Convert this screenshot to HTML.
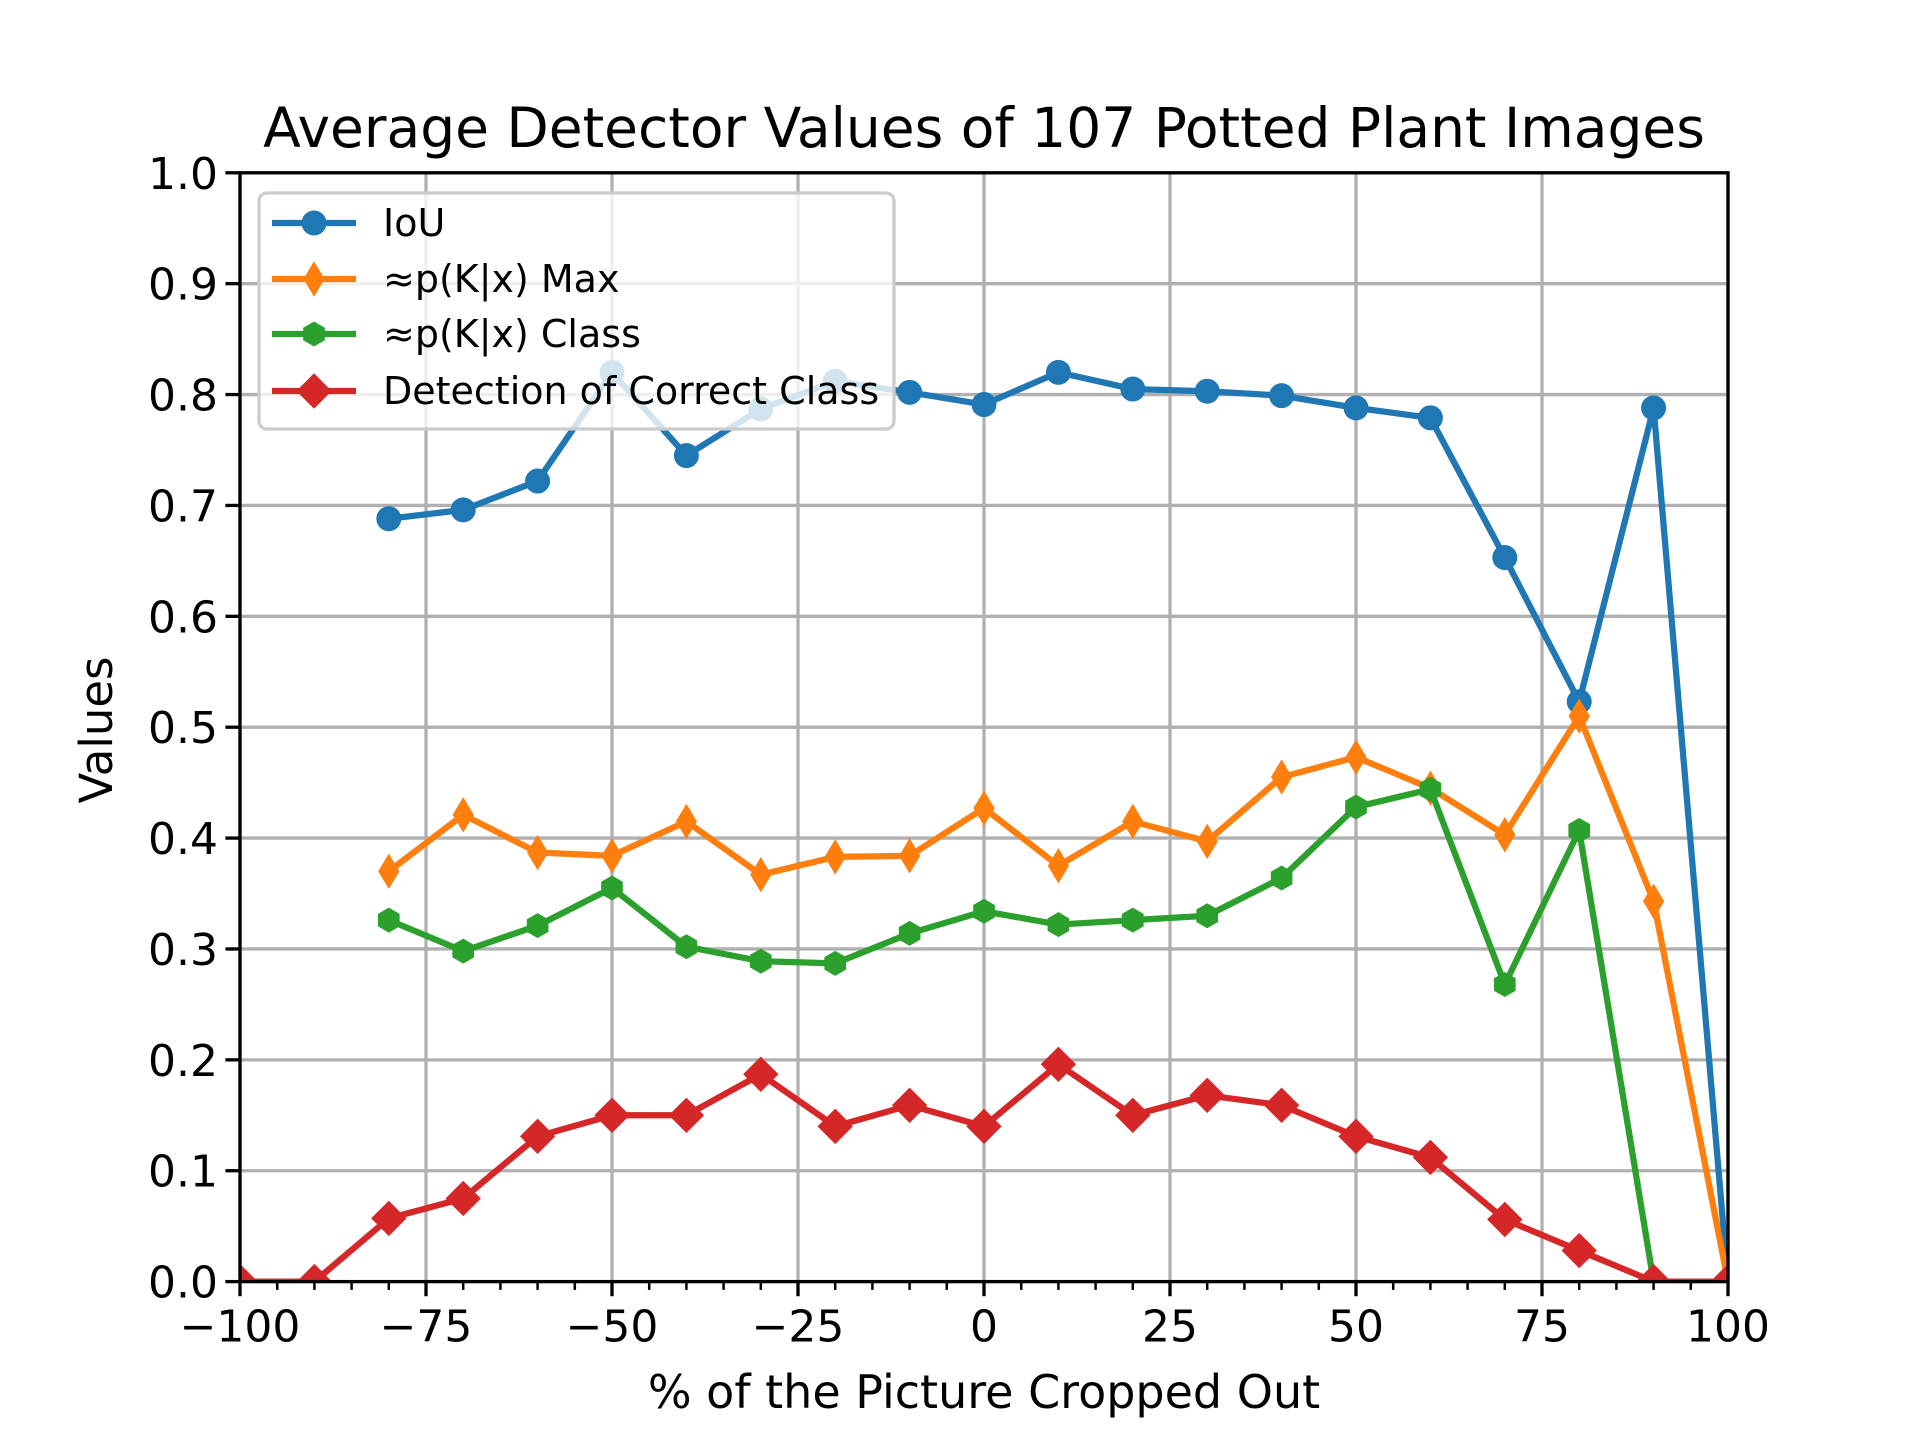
<!DOCTYPE html>
<html><head><meta charset="utf-8">
<style>
html,body{margin:0;padding:0;background:#fff;}
svg{display:block;font-family:"DejaVu Sans","Liberation Sans",sans-serif;}
</style></head>
<body>
<svg id="chart" width="1920" height="1440" viewBox="0 0 1920 1440" xmlns="http://www.w3.org/2000/svg">
<rect width="1920" height="1440" fill="#fff"/>
<text x="984" y="147" font-size="55" text-anchor="middle">Average Detector Values of 107 Potted Plant Images</text>
<text x="984" y="1424" font-size="46" text-anchor="middle" transform="translate(0,-16)">% of the Picture Cropped Out</text>
<text x="0" y="0" font-size="45" text-anchor="middle" transform="translate(112,730) rotate(-90)">Values</text>
<g id="grid"></g><g id="series"></g><g id="axes"></g><g id="legend"></g>
</svg>
<script>
const xTicks=[-100,-75,-50,-25,0,25,50,75,100];
const xTickLabels=["\u2212100","\u221275","\u221250","\u221225","0","25","50","75","100"];
const yTicks=[0,0.1,0.2,0.3,0.4,0.5,0.6,0.7,0.8,0.9,1.0];
const yTickLabels=["0.0","0.1","0.2","0.3","0.4","0.5","0.6","0.7","0.8","0.9","1.0"];
const xIoU=[-80,-70,-60,-50,-40,-30,-20,-10,0,10,20,30,40,50,60,70,80,90,100];
const iou=[0.688,0.696,0.722,0.820,0.745,0.787,0.812,0.802,0.791,0.820,0.805,0.803,0.799,0.788,0.779,0.653,0.523,0.788,0.0];
const xMax=[-80,-70,-60,-50,-40,-30,-20,-10,0,10,20,30,40,50,60,70,80,90,100];
const pMax=[0.370,0.421,0.387,0.384,0.415,0.367,0.383,0.384,0.427,0.375,0.415,0.397,0.455,0.473,0.445,0.403,0.510,0.343,0.0];
const xClass=[-80,-70,-60,-50,-40,-30,-20,-10,0,10,20,30,40,50,60,70,80,90,100];
const pClass=[0.326,0.298,0.321,0.355,0.302,0.289,0.287,0.314,0.334,0.322,0.326,0.330,0.364,0.428,0.444,0.268,0.407,0.0,0.0];
const xDet=[-100,-90,-80,-70,-60,-50,-40,-30,-20,-10,0,10,20,30,40,50,60,70,80,90,100];
const det=[0,0,0.057,0.075,0.131,0.150,0.150,0.187,0.140,0.159,0.140,0.196,0.150,0.168,0.159,0.131,0.112,0.056,0.028,0.0,0.0];

const L=240,R=1728,T=172.8,B=1281.6;
const sx=v=>L+(v+100)/200*(R-L);
const sy=v=>B-v*(B-T);
const NS="http://www.w3.org/2000/svg";
function mk(tag,parent,attrs){const e=document.createElementNS(NS,tag);for(const k in attrs)e.setAttribute(k,attrs[k]);parent.appendChild(e);return e;}
const grid=document.getElementById('grid'),axes=document.getElementById('axes'),ser=document.getElementById('series'),leg=document.getElementById('legend');

xTicks.forEach((t,i)=>{
 const g=mk('line',grid,{x1:sx(t),x2:sx(t),y1:T,y2:B,stroke:'#b0b0b0','stroke-width':3.3});
 
 
 const tk=mk('line',axes,{x1:sx(t),x2:sx(t),y1:B,y2:B+14.6,stroke:'#000','stroke-width':3.3});
 
 
 const tx=mk('text',axes,{x:sx(t),y:B+60,'font-size':44,'text-anchor':'middle'});
 tx.textContent=xTickLabels[i];
 
 
});
for(let v=-95;v<100;v+=5){if(v%25===0)continue;
 const m=mk('line',axes,{x1:sx(v),x2:sx(v),y1:B,y2:B+8.3,stroke:'#000','stroke-width':2.5});
 
 
}
yTicks.forEach((t,i)=>{
 const g=mk('line',grid,{x1:L,x2:R,y1:sy(t),y2:sy(t),stroke:'#b0b0b0','stroke-width':3.3});
 
 
 const tk=mk('line',axes,{x1:L-14.6,x2:L,y1:sy(t),y2:sy(t),stroke:'#000','stroke-width':3.3});
 
 
 const tx=mk('text',axes,{x:L-22,y:sy(t)+16,'font-size':44,'text-anchor':'end'});
 tx.textContent=yTickLabels[i];
 
 
});
const frame=mk('rect',axes,{x:L,y:T,width:R-L,height:B-T,fill:'none',stroke:'#000','stroke-width':3.3});



function marker(parent,type,cx,cy,color){
 let e;
 if(type==='o') e=mk('circle',parent,{cx:cx,cy:cy,r:12.5,fill:color});
 else if(type==='d') e=mk('polygon',parent,{points:`${cx},${cy-17.7} ${cx+10.6},${cy} ${cx},${cy+17.7} ${cx-10.6},${cy}`,fill:color});
 else if(type==='h'){let p=[];for(let k=0;k<6;k++){const a=Math.PI/2+k*Math.PI/3;p.push((cx+12.5*Math.cos(a))+','+(cy-12.5*Math.sin(a)));}e=mk('polygon',parent,{points:p.join(' '),fill:color});}
 else e=mk('polygon',parent,{points:`${cx},${cy-17.7} ${cx+17.7},${cy} ${cx},${cy+17.7} ${cx-17.7},${cy}`,fill:color});
 return e;
}
const clip=mk('clipPath',document.getElementById('chart'),{id:'plotclip'});
mk('rect',clip,{x:L,y:T,width:R-L,height:B-T});
ser.setAttribute('clip-path','url(#plotclip)');
const S=[
 {xs:xIoU,ys:iou,c:'#1f77b4',m:'o',n:'iou'},
 {xs:xMax,ys:pMax,c:'#ff7f0e',m:'d',n:'p-max'},
 {xs:xClass,ys:pClass,c:'#2ca02c',m:'h',n:'p-class'},
 {xs:xDet,ys:det,c:'#d62728',m:'D',n:'detection-correct-class'}
];
S.forEach(s=>{
 const g=mk('g',ser,{});
 
 
 const pl=mk('polyline',g,{points:s.xs.map((x,i)=>sx(x)+','+sy(s.ys[i])).join(' '),fill:'none',stroke:s.c,'stroke-width':6.25,'stroke-linejoin':'round'});
 
 
 s.xs.forEach((x,i)=>{const m=marker(g,s.m,sx(x),sy(s.ys[i]),s.c);
  
  });
});
// legend
const lb=mk('rect',leg,{x:259,y:193,width:635,height:236,rx:8,fill:'#fff','fill-opacity':0.8,stroke:'#cccccc','stroke-width':3.3});


const labels=['IoU','\u2248p(K|x) Max','\u2248p(K|x) Class','Detection of Correct Class'];
const rows=[223,279,334,391];
S.forEach((s,i)=>{
 const g=mk('g',leg,{});
 
 
 mk('line',g,{x1:272,x2:356,y1:rows[i],y2:rows[i],stroke:s.c,'stroke-width':6.25});
 marker(g,s.m,314,rows[i],s.c);
 const t=mk('text',g,{x:383,y:rows[i]+13,'font-size':38});
 t.textContent=labels[i];
});
</script>
</body></html>
